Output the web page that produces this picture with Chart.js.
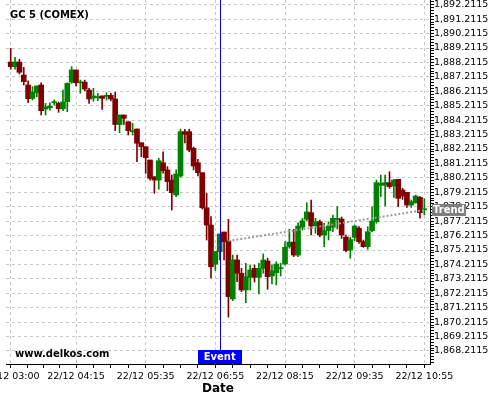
<!DOCTYPE html>
<html>
<head>
<meta charset="utf-8">
<script src="https://cdn.jsdelivr.net/npm/chart.js@4/dist/chart.umd.min.js"></script>
<style>
  html, body { margin: 0; padding: 0; background: #fff; }
</style>
</head>
<body>
<canvas id="myChart" width="500" height="400"></canvas>
<script>
// 5 minute candles, 22/12
const times = [
  "03:00","03:05","03:10","03:15","03:20","03:25","03:30","03:35","03:40","03:45","03:50","03:55",
  "04:00","04:05","04:10","04:15","04:20","04:25","04:30","04:35","04:40","04:45","04:50","04:55",
  "05:00","05:05","05:10","05:15","05:20","05:25","05:30","05:35","05:40","05:45","05:50","05:55",
  "06:00","06:05","06:10","06:15","06:20","06:25","06:30","06:35","06:40","06:45","06:50","06:55",
  "07:00","07:05","07:10","07:15","07:20","07:25","07:30","07:35","07:40","07:45","07:50","07:55",
  "08:00","08:05","08:10","08:15","08:20","08:25","08:30","08:35","08:40","08:45","08:50","08:55",
  "09:00","09:05","09:10","09:15","09:20","09:25","09:30","09:35","09:40","09:45","09:50","09:55",
  "10:00","10:05","10:10","10:15","10:20","10:25","10:30","10:35","10:40","10:45","10:50","10:55"
];
const opens = [
  1888.24,1887.92,1888.24,1887.34,1886.65,1885.72,1886.11,1886.65,1884.98,1885.07,1885.42,1885.38,
  1885.00,1885.49,1886.85,1887.69,1886.80,1886.85,1886.30,1885.75,1885.77,1885.89,1885.86,1885.93,
  1885.68,1883.91,1884.57,1884.10,1883.41,1883.60,1882.65,1882.37,1881.45,1880.29,1880.06,1881.26,
  1880.76,1880.06,1879.02,1880.34,1883.41,1883.41,1882.26,1881.26,1880.57,1878.14,1876.94,1874.24,
  1875.09,1876.46,1875.84,1871.82,1874.52,1873.60,1872.44,1873.32,1873.94,1873.32,1873.94,1874.45,
  1873.41,1873.64,1873.92,1874.24,1875.44,1875.76,1874.86,1876.79,1877.34,1877.80,1876.90,1877.17,
  1876.25,1876.55,1876.79,1877.34,1877.36,1876.11,1875.21,1876.09,1876.72,1875.79,1875.44,1876.55,
  1877.17,1879.70,1879.70,1879.88,1879.65,1880.11,1879.37,1879.21,1878.33,1878.49,1878.86,1878.00
];
const highs = [
  1889.19,1888.57,1888.43,1887.87,1886.94,1886.53,1886.58,1886.80,1885.38,1885.42,1885.61,1885.47,
  1886.30,1886.80,1887.92,1887.69,1886.99,1886.99,1886.42,1886.42,1886.07,1885.89,1886.11,1886.07,
  1886.14,1884.57,1884.57,1884.10,1883.99,1883.60,1882.65,1882.37,1881.45,1880.29,1881.57,1882.02,
  1880.99,1880.41,1880.76,1883.58,1883.58,1883.58,1882.35,1881.50,1880.57,1879.14,1877.52,1875.11,
  1876.32,1876.46,1877.34,1874.86,1874.86,1873.94,1874.29,1874.17,1874.17,1874.29,1874.94,1874.64,
  1874.17,1874.40,1874.29,1875.79,1876.65,1876.65,1877.10,1877.41,1878.49,1878.68,1877.41,1877.29,
  1877.06,1877.17,1877.64,1878.21,1877.50,1876.25,1876.09,1876.94,1876.83,1875.90,1876.83,1878.21,
  1880.06,1880.41,1880.41,1880.64,1880.11,1880.11,1879.49,1879.21,1878.68,1879.02,1878.91,1878.77
];
const lows = [
  1887.74,1887.74,1887.41,1886.65,1885.42,1885.61,1885.84,1884.57,1884.57,1884.91,1885.26,1884.75,
  1884.87,1884.80,1886.76,1886.58,1886.07,1886.25,1885.38,1885.52,1885.56,1884.96,1885.61,1885.54,
  1883.48,1883.34,1883.92,1883.18,1883.18,1881.33,1881.68,1880.53,1880.06,1879.14,1879.42,1880.53,
  1879.32,1877.98,1878.90,1880.25,1882.63,1882.02,1880.76,1880.34,1878.05,1875.90,1873.27,1873.79,
  1874.52,1874.52,1870.57,1871.70,1873.01,1872.32,1871.56,1872.44,1872.99,1872.17,1873.60,1872.49,
  1872.86,1872.79,1873.41,1874.17,1875.33,1874.75,1874.75,1876.60,1877.24,1876.25,1876.37,1876.13,
  1875.44,1875.91,1876.48,1876.67,1876.01,1875.07,1874.64,1875.86,1875.67,1875.40,1875.26,1876.48,
  1877.06,1878.91,1878.26,1879.49,1878.86,1878.21,1878.72,1878.17,1878.17,1878.45,1877.41,1877.64
];
const closes = [
  1887.92,1888.24,1887.53,1886.88,1885.70,1886.16,1886.58,1884.87,1885.14,1885.19,1885.49,1885.00,
  1885.47,1886.76,1887.69,1886.80,1886.85,1886.37,1885.68,1885.89,1885.84,1885.72,1885.91,1885.68,
  1883.91,1884.57,1884.34,1883.48,1883.48,1882.61,1882.37,1881.61,1880.18,1880.06,1881.40,1880.71,
  1879.95,1879.18,1880.48,1883.41,1883.23,1882.14,1881.03,1880.57,1878.14,1876.94,1874.05,1875.11,
  1876.32,1875.79,1871.98,1874.52,1873.60,1872.44,1873.36,1873.83,1873.32,1873.94,1874.52,1873.36,
  1873.76,1874.24,1873.99,1875.40,1875.76,1874.86,1876.87,1877.24,1877.85,1876.87,1877.17,1876.25,
  1876.55,1876.87,1877.41,1877.39,1876.25,1875.18,1875.94,1876.87,1875.79,1875.44,1876.48,1877.22,
  1879.88,1879.84,1879.88,1879.60,1880.06,1878.79,1878.95,1878.33,1878.56,1878.95,1877.80,1878.05
];

const trendTimes = ["07:10", "10:55"];
const trendValues = [1875.84, 1877.98];
const eventTime = "07:00";

const xTickTimes = ["03:00", "04:15", "05:35", "06:55", "08:15", "09:35", "10:55"];
const xTickLabels = ["22/12 03:00", "22/12 04:15", "22/12 05:35", "22/12 06:55", "22/12 08:15", "22/12 09:35", "22/12 10:55"];
const xMinorMinutes = [19, 37.5, 56, 95, 115, 135, 175, 195, 215, 255, 275, 295, 335, 355, 375, 415, 435, 455];

const yFirstTick = 1868.2115;
const yTickCount = 25;
const yMinorStep = 0.2;

const upColor = "#008000";
const downColor = "#800000";
const gridColor = "#c8c8c8";

// minutes since 03:00
function toMin(s) {
  const p = s.split(":").map(Number);
  return (p[0] - 3) * 60 + p[1];
}

const xMajor = xTickTimes.map(toMin);
const xTicks = xMajor.concat(xMinorMinutes).sort((a, b) => a - b);

const yTicks = [];
for (let k = -4; k <= (yTickCount - 1) * 5 + 1; k++) {
  yTicks.push(+(yFirstTick + k * yMinorStep).toFixed(4));
}
function isYMajor(v) {
  const d = (v - yFirstTick);
  return Math.abs(d - Math.round(d)) < 1e-6;
}
function yLabel(v) {
  return v.toLocaleString("en-US", { minimumFractionDigits: 4, maximumFractionDigits: 4 });
}

Chart.defaults.font.family = "'DejaVu Sans', sans-serif";
Chart.defaults.color = "#000";

const candleColor = (ctx) => closes[ctx.dataIndex] >= opens[ctx.dataIndex] ? upColor : downColor;

const overlay = {
  id: "overlay",
  afterDatasetsDraw(chart) {
    const ctx = chart.ctx, area = chart.chartArea;
    const x = Math.round(chart.scales.x.getPixelForValue(toMin(eventTime))) + 0.5;
    ctx.save();
    ctx.strokeStyle = "#0000d0";
    ctx.lineWidth = 1;
    ctx.beginPath();
    ctx.moveTo(x, area.top);
    ctx.lineTo(x, area.bottom);
    ctx.stroke();
    ctx.restore();
  },
  afterDraw(chart) {
    const ctx = chart.ctx, area = chart.chartArea;
    ctx.save();
    ctx.textBaseline = "middle";
    ctx.font = "bold 10px 'DejaVu Sans'";
    ctx.fillStyle = "#000";
    ctx.textAlign = "left";
    ctx.fillText("GC 5 (COMEX)", 10, 15);
    ctx.fillText("www.delkos.com", 15, 354);

    // event box
    const ex = chart.scales.x.getPixelForValue(toMin(eventTime));
    const ew = ctx.measureText("Event").width + 12;
    ctx.fillStyle = "#0000ff";
    ctx.fillRect(Math.round(ex - ew / 2), area.bottom - 14, Math.round(ew), 14);
    ctx.fillStyle = "#fff";
    ctx.textAlign = "center";
    ctx.fillText("Event", ex, area.bottom - 7);

    // trend box
    const ty = chart.scales.y.getPixelForValue(trendValues[trendValues.length - 1]);
    const tw = ctx.measureText("Trend").width + 2;
    ctx.fillStyle = "#808080";
    ctx.fillRect(area.right + 2, Math.round(ty - 6), Math.round(tw), 12);
    ctx.fillStyle = "#fff";
    ctx.textAlign = "left";
    ctx.fillText("Trend", area.right + 3, ty + 0.5);
    ctx.restore();
  }
};

new Chart("myChart", {
  data: {
    datasets: [
      {
        type: "line",
        data: trendTimes.map((t, i) => ({ x: toMin(t), y: trendValues[i] })),
        borderColor: "#9a9a9a",
        borderWidth: 2,
        borderDash: [2, 2],
        pointRadius: 0,
        fill: false
      },
      {
        type: "bar",
        data: times.map((t, i) => ({ x: toMin(t), y: [opens[i], closes[i]] })),
        backgroundColor: candleColor,
        barThickness: 5,
        minBarLength: 1,
        grouped: false,
        borderWidth: 0,
        borderSkipped: false
      },
      {
        type: "bar",
        data: times.map((t, i) => ({ x: toMin(t), y: [lows[i], highs[i]] })),
        backgroundColor: candleColor,
        barThickness: 1,
        grouped: false,
        borderWidth: 0,
        borderSkipped: false
      }
    ]
  },
  options: {
    responsive: false,
    animation: false,
    layout: { padding: { left: 6, top: 0, right: 0, bottom: 0 } },
    plugins: { legend: { display: false }, tooltip: { enabled: false } },
    scales: {
      x: {
        type: "linear",
        min: -5.4,
        max: 481.5,
        offset: false,
        afterBuildTicks: (axis) => { axis.ticks = xTicks.map((v) => ({ value: v })); },
        afterFit: (s) => { s.height = 36; s.paddingLeft = 0; s.paddingRight = 0; },
        ticks: {
          autoSkip: false,
          maxRotation: 0,
          padding: 3,
          font: { size: 9.5 },
          callback: (v) => {
            const i = xMajor.indexOf(v);
            return i >= 0 ? xTickLabels[i] : "";
          }
        },
        grid: {
          offset: false,
          color: (c) => (c.tick && xMajor.indexOf(c.tick.value) >= 0 ? gridColor : "rgba(0,0,0,0)"),
          tickColor: "#000",
          tickLength: 4
        },
        border: { display: true, color: "#000", width: 1, dash: [3, 3] },
        title: {
          display: true,
          text: "Date",
          font: { size: 12, weight: "bold" },
          padding: { top: 0, bottom: 4 }
        }
      },
      y: {
        type: "linear",
        position: "right",
        min: 1867.31,
        max: 1892.54,
        afterBuildTicks: (axis) => { axis.ticks = yTicks.map((v) => ({ value: v })); },
        afterFit: (s) => { s.width = 70; s.paddingTop = 0; s.paddingBottom = 0; },
        ticks: {
          autoSkip: false,
          padding: 0,
          font: { size: 9.5 },
          callback: (v) => (isYMajor(v) ? yLabel(v) : "")
        },
        grid: {
          color: (c) => (c.tick && isYMajor(c.tick.value) ? gridColor : "rgba(0,0,0,0)"),
          tickColor: "#000",
          tickLength: 4
        },
        border: { display: true, color: "#000", width: 1, dash: [3, 3] }
      }
    }
  },
  plugins: [overlay]
});
</script>
</body>
</html>
